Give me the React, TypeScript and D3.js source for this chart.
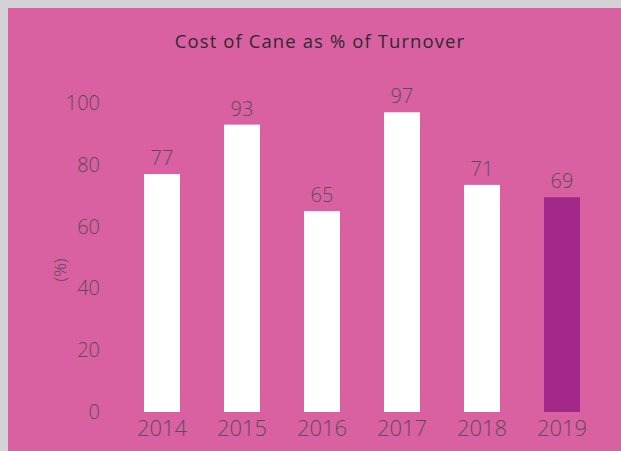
import React, { useEffect, useRef } from 'react';
import * as d3 from 'd3';

const years = ['2014', '2015', '2016', '2017', '2018', '2019'];
const barValues = [77, 93, 65, 97, 73.5, 69.5];
const barLabels = ['77', '93', '65', '97', '71', '69'];
const yTicks = [0, 20, 40, 60, 80, 100];

const App = () => {
    const ref = useRef<SVGSVGElement>(null);

    useEffect(() => {
        document.body.style.margin = '0';
        const width = 621;
        const height = 451;
        const svg = d3.select(ref.current);
        svg.selectAll('*').remove();

        const font = "'Open Sans', 'DejaVu Sans', sans-serif";
        const textGrey = '#5f4a59';

        // background + frame
        svg.append('rect').attr('width', width).attr('height', height).attr('fill', '#d3d3d4');
        svg.append('rect')
            .attr('x', 8).attr('y', 8)
            .attr('width', width - 8).attr('height', height - 8)
            .attr('fill', '#d961a2');

        // title
        svg.append('text')
            .attr('x', 320).attr('y', 48)
            .attr('text-anchor', 'middle')
            .attr('font-family', font)
            .attr('font-size', 18.5)
            .attr('letter-spacing', 1.1)
            .attr('fill', '#2e2a2e')
            .text('Cost of Cane as % of Turnover');

        const xScale = d3.scaleBand()
            .domain(years)
            .range([122, 602])
            .paddingInner(0.55)
            .paddingOuter(0.275);
        const yScale = d3.scaleLinear()
            .domain([0, 100])
            .range([412, 103]);

        // y ticks
        svg.append('g').selectAll('text')
            .data(yTicks)
            .enter()
            .append('text')
            .attr('x', 100)
            .attr('y', d => yScale(d))
            .attr('dy', '0.35em')
            .attr('text-anchor', 'end')
            .attr('font-family', font)
            .attr('font-weight', 300)
            .attr('font-size', 20)
            .attr('fill', textGrey)
            .text(d => d);

        svg.append('text')
            .attr('transform', 'translate(60, 270) rotate(-90)')
            .attr('text-anchor', 'middle')
            .attr('dy', '0.35em')
            .attr('font-family', font)
            .attr('font-weight', 300)
            .attr('font-size', 17)
            .attr('fill', textGrey)
            .text('(%)');

        // bars
        svg.append('g').selectAll('rect')
            .data(years)
            .enter()
            .append('rect')
            .attr('x', d => xScale(d)!)
            .attr('y', (d, i) => yScale(barValues[i]))
            .attr('width', xScale.bandwidth())
            .attr('height', (d, i) => yScale(0) - yScale(barValues[i]))
            .attr('fill', (d, i) => (i === years.length - 1 ? '#a2298a' : '#ffffff'));

        // value labels
        svg.append('g').selectAll('text')
            .data(years)
            .enter()
            .append('text')
            .attr('x', d => xScale(d)! + xScale.bandwidth() / 2)
            .attr('y', (d, i) => yScale(barValues[i]) - 9)
            .attr('text-anchor', 'middle')
            .attr('font-family', font)
            .attr('font-weight', 300)
            .attr('font-size', 20)
            .attr('fill', textGrey)
            .text((d, i) => barLabels[i]);

        // x labels
        svg.append('g').selectAll('text')
            .data(years)
            .enter()
            .append('text')
            .attr('x', d => xScale(d)! + xScale.bandwidth() / 2)
            .attr('y', 436)
            .attr('text-anchor', 'middle')
            .attr('font-family', font)
            .attr('font-weight', 300)
            .attr('font-size', 22)
            .attr('fill', textGrey)
            .text(d => d);
    }, []);

    return <svg ref={ref} width={621} height={451} style={{ display: 'block' }} />;
};

export default App;
